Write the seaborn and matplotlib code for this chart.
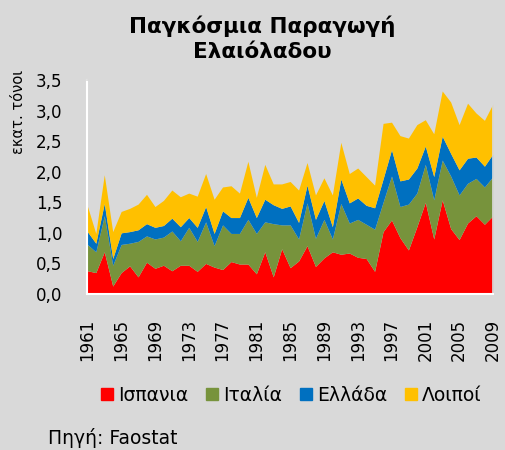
import pandas as pd
import matplotlib.pyplot as plt
import seaborn as sns
from matplotlib.lines import Line2D

# Olive oil production, million tonnes
years = list(range(1961, 2010))
spain = [0.38, 0.35, 0.69, 0.13, 0.35, 0.46, 0.28, 0.52, 0.42, 0.47,
         0.38, 0.47, 0.47, 0.37, 0.50, 0.44, 0.40, 0.53, 0.49, 0.49,
         0.33, 0.69, 0.28, 0.74, 0.43, 0.54, 0.79, 0.45, 0.59, 0.69,
         0.65, 0.67, 0.60, 0.58, 0.37, 1.02, 1.21, 0.92, 0.72, 1.10,
         1.50, 0.90, 1.54, 1.07, 0.89, 1.16, 1.28, 1.14, 1.28]
italy = [0.43, 0.34, 0.59, 0.34, 0.46, 0.37, 0.58, 0.43, 0.48, 0.46,
         0.65, 0.40, 0.62, 0.49, 0.68, 0.35, 0.73, 0.46, 0.50, 0.73,
         0.66, 0.49, 0.87, 0.39, 0.70, 0.36, 0.70, 0.46, 0.63, 0.21,
         0.83, 0.49, 0.62, 0.56, 0.69, 0.48, 0.72, 0.51, 0.75, 0.55,
         0.62, 0.64, 0.65, 0.86, 0.73, 0.65, 0.61, 0.61, 0.64]
greece = [0.21, 0.14, 0.20, 0.11, 0.19, 0.19, 0.19, 0.20, 0.19, 0.19,
          0.21, 0.23, 0.16, 0.23, 0.25, 0.20, 0.23, 0.26, 0.26, 0.36,
          0.26, 0.37, 0.31, 0.27, 0.31, 0.27, 0.29, 0.31, 0.31, 0.20,
          0.40, 0.33, 0.35, 0.31, 0.35, 0.38, 0.43, 0.42, 0.41, 0.41,
          0.30, 0.38, 0.39, 0.37, 0.41, 0.41, 0.35, 0.34, 0.37]
others = [0.42, 0.16, 0.47, 0.44, 0.35, 0.38, 0.42, 0.48, 0.34, 0.41,
          0.46, 0.49, 0.40, 0.51, 0.54, 0.56, 0.39, 0.52, 0.40, 0.59,
          0.33, 0.57, 0.34, 0.40, 0.40, 0.53, 0.37, 0.40, 0.37, 0.52,
          0.60, 0.48, 0.49, 0.47, 0.37, 0.91, 0.45, 0.74, 0.67, 0.71,
          0.43, 0.70, 0.74, 0.84, 0.74, 0.90, 0.72, 0.75, 0.82]

countries = ['Ισπανια', 'Ιταλία', 'Ελλάδα', 'Λοιποί']
colors = ['#FF0000', '#77933C', '#0070C0', '#FFC000']
xticks = list(range(1961, 2010, 4))
yticks = [0.0, 0.5, 1.0, 1.5, 2.0, 2.5, 3.0, 3.5]

df = pd.DataFrame({'Έτος': years, countries[0]: spain, countries[1]: italy,
                   countries[2]: greece, countries[3]: others})
df = df.melt(id_vars='Έτος', var_name='Χώρα', value_name='Παραγωγή')

bg = '#D9D9D9'
sns.set_theme(style='white')
plt.rcParams['font.family'] = ['DejaVu Sans']
plt.rcParams['text.color'] = 'black'

fig = plt.figure(figsize=(5.05, 4.5), dpi=100, facecolor=bg)
ax = fig.add_axes([0.173, 0.3467, 0.803, 0.4756])
ax.set_facecolor(bg)

# seaborn stacks the last hue level at the bottom
sns.histplot(data=df, x='Έτος', weights='Παραγωγή', hue='Χώρα',
             hue_order=countries[::-1], palette=dict(zip(countries, colors)),
             multiple='stack', element='poly', discrete=True,
             alpha=1, linewidth=0, legend=False, ax=ax)

ax.set_xlim(1961, 2009)
ax.set_ylim(0, 3.5)
ax.set_xticks(xticks)
ax.set_xticklabels([str(y) for y in xticks], rotation=90, fontsize=12,
                   color='black')
ax.tick_params(axis='x', pad=12)
ax.set_yticks(yticks)
ax.set_yticklabels([f'{v:.1f}'.replace('.', ',') for v in yticks],
                   fontsize=12, color='black')
ax.tick_params(axis='y', pad=12)
ax.xaxis.label.set_visible(False)
ax.yaxis.label.set_visible(False)

for s in ['left', 'bottom']:
    ax.spines[s].set_color('white')
    ax.spines[s].set_linewidth(1.5)
ax.spines['top'].set_color(bg)
ax.spines['right'].set_color(bg)

fig.text(0.519, 0.914, 'Παγκόσμια Παραγωγή\nΕλαιόλαδου', ha='center', va='center',
         fontsize=15.5, fontweight='bold', linespacing=1.3, color='black')
fig.text(0.036, 0.751, 'εκατ. τόνοι', rotation=90, ha='center', va='center',
         fontsize=10.5, color='black')

handles = [Line2D([], [], marker='s', linestyle='', markersize=8.5,
                  markerfacecolor=c, markeredgecolor=c) for c in colors]
fig.legend(handles, countries, loc='center', bbox_to_anchor=(0.577, 0.122),
           ncol=4, frameon=False, fontsize=13.5, handlelength=0.65,
           handletextpad=0.25, columnspacing=0.95, borderaxespad=0,
           labelcolor='black')

fig.text(0.095, 0.027, 'Πηγή: Faostat', ha='left', va='center', fontsize=13.5,
         color='black')

plt.savefig('out.png', dpi=100, facecolor=bg)
